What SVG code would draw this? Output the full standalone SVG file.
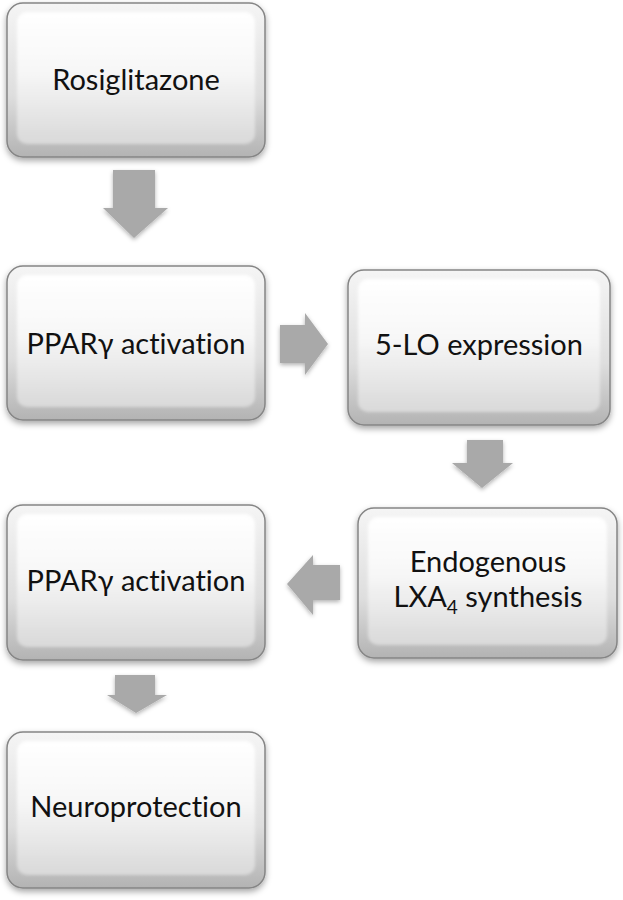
<svg xmlns="http://www.w3.org/2000/svg" width="623" height="900" viewBox="0 0 623 900">
<defs>
<linearGradient id="outer" x1="0" y1="0" x2="0" y2="1">
<stop offset="0" stop-color="#f5f5f5"/>
<stop offset="0.6" stop-color="#dedede"/>
<stop offset="1" stop-color="#b3b3b3"/>
</linearGradient>
<linearGradient id="inner" x1="0" y1="0" x2="0" y2="1">
<stop offset="0" stop-color="#ffffff"/>
<stop offset="0.45" stop-color="#f7f7f7"/>
<stop offset="1" stop-color="#d9d9d9"/>
</linearGradient>
<filter id="shadow" x="-10%" y="-10%" width="120%" height="125%">
<feDropShadow dx="0" dy="3" stdDeviation="3" flood-color="#000" flood-opacity="0.35"/>
</filter>
<filter id="ashadow" x="-20%" y="-20%" width="140%" height="150%">
<feDropShadow dx="0" dy="2" stdDeviation="2" flood-color="#000" flood-opacity="0.3"/>
</filter>
<filter id="soft"><feGaussianBlur stdDeviation="1.5"/></filter>
</defs>
<style>
.box{fill:url(#outer);stroke:#858585;stroke-width:1.5;filter:url(#shadow)}
.in{fill:url(#inner);filter:url(#soft)}
.t{font-family:Lato,"Liberation Sans",sans-serif;font-size:29px;fill:#111;text-anchor:middle;font-variant-ligatures:none;font-feature-settings:"liga" 0}
.arr{fill:#a9a9a9;filter:url(#ashadow)}
</style>
<g id="connectors">
<polygon class="arr" points="113,170 155,170 155,208 168,208 134,238 103,208 113,208"/>
<polygon class="arr" points="280,325 305,325 305,313 328,344 305,375 305,363 280,363"/>
<polygon class="arr" points="467,440 503,440 503,463 513,463 482,488 452,463 467,463"/>
<polygon class="arr" points="340,565 313,565 313,555 287,584 313,615 313,600 340,600"/>
<polygon class="arr" points="115,675 155,675 155,695 167,695 136,713 107,695 115,695"/>
</g>
<g id="rosiglitazone">
<rect class="box" x="7" y="3" width="258" height="154" rx="16"/>
<rect class="in" x="17" y="12" width="238" height="132" rx="10"/>
<text class="t" x="136" y="90">Rosiglitazone</text>
</g>
<g id="ppar1">
<rect class="box" x="7" y="266" width="258" height="154" rx="16"/>
<rect class="in" x="17" y="275" width="238" height="132" rx="10"/>
<text class="t" x="136" y="354">PPARγ activation</text>
</g>
<g id="lo5">
<rect class="box" x="348" y="270" width="262" height="155" rx="16"/>
<rect class="in" x="358" y="279" width="242" height="133" rx="10"/>
<text class="t" x="479" y="355">5-LO expression</text>
</g>
<g id="lxa4">
<rect class="box" x="358" y="508" width="259" height="150" rx="16"/>
<rect class="in" x="368" y="517" width="239" height="128" rx="10"/>
<text class="t" x="488" y="572">Endogenous</text>
<text class="t" x="488" y="607">LXA<tspan font-size="19" dy="7">4</tspan><tspan dy="-7"> synthesis</tspan></text>
</g>
<g id="ppar2">
<rect class="box" x="7" y="505" width="258" height="155" rx="16"/>
<rect class="in" x="17" y="514" width="238" height="133" rx="10"/>
<text class="t" x="136" y="591">PPARγ activation</text>
</g>
<g id="neuroprotection">
<rect class="box" x="7" y="732" width="258" height="156" rx="16"/>
<rect class="in" x="17" y="741" width="238" height="134" rx="10"/>
<text class="t" x="136" y="817">Neuroprotection</text>
</g>
</svg>
